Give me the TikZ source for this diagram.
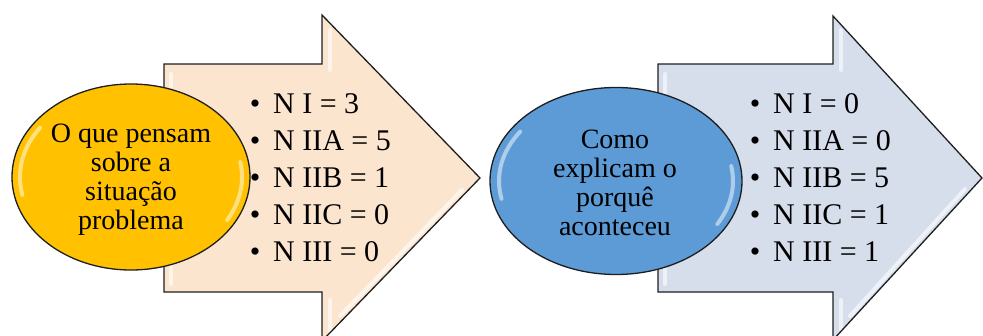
\documentclass[tikz,border=0pt]{standalone}
\usepackage{fontspec}
\setmainfont{Liberation Serif}
\usetikzlibrary{shapes.geometric}
\definecolor{peach}{RGB}{252,229,206}
\definecolor{steel}{RGB}{214,222,235}
\definecolor{gold}{RGB}{255,193,0}
\definecolor{golddark}{RGB}{236,163,0}
\definecolor{sky}{RGB}{92,155,213}
\definecolor{skydark}{RGB}{62,120,180}
\definecolor{edge}{RGB}{30,30,30}
\pgfdeclareradialshading{goldglow}{\pgfpoint{0bp}{0bp}}{color(0bp)=(gold); color(40bp)=(gold); color(50bp)=(golddark)}
\pgfdeclareradialshading{skyglow}{\pgfpoint{0bp}{0bp}}{color(0bp)=(sky); color(40bp)=(sky); color(50bp)=(skydark)}
\tikzset{
  border/.style={draw=edge, line width=1.3pt, line join=miter},
  bevel/.style={white, opacity=.6, line width=4pt, line cap=round},
  glint/.style={white, opacity=.5, line width=4pt, line cap=round},
  ellbox/.style={ellipse, border, inner sep=0pt},
  etext/.style={align=center, inner sep=0pt, font=\fontsize{28}{29}\selectfont},
  item/.style={anchor=base west, inner sep=0pt, font=\fontsize{30}{37}\selectfont},
}
\newcommand{\bul}{\makebox[23.25pt][l]{•}}
\begin{document}
\begin{tikzpicture}[x=1pt,y=-1pt]
\useasboundingbox (0,0) rectangle (983,335);
\clip (0,0) rectangle (983,335);
% ---------- left arrow ----------
\begin{scope}
  \clip (164,64) -- (322,64) -- (322,15) -- (480,178) -- (322,341) -- (322,292) -- (164,292) -- cycle;
  \fill[peach] (150,0) rectangle (500,345);
  \draw[bevel] (171,74) -- (171,98);
  \draw[bevel] (171,262) -- (171,284);
  \draw[bevel] (330,30) -- (330,70);
  \draw[bevel] (330,300) -- (330,330);
  \draw[bevel] (462,190) -- (340,316);
\end{scope}
\draw[border] (164,64) -- (322,64) -- (322,15) -- (480,178) -- (322,341) -- (322,292) -- (164,292) -- cycle;
% ---------- right arrow ----------
\begin{scope}
  \clip (658,64) -- (833,64) -- (833,16) -- (982,178) -- (833,340) -- (833,292) -- (658,292) -- cycle;
  \fill[steel] (640,0) rectangle (990,345);
  \draw[bevel] (665,74) -- (665,98);
  \draw[bevel] (665,262) -- (665,284);
  \draw[bevel] (841,30) -- (841,70);
  \draw[bevel] (841,300) -- (841,330);
  \draw[bevel] (965,189) -- (850,316);
\end{scope}
\draw[border] (658,64) -- (833,64) -- (833,16) -- (982,178) -- (833,340) -- (833,292) -- (658,292) -- cycle;
% ---------- ellipses ----------
\node[ellbox, shading=goldglow, minimum width=238pt, minimum height=186pt] (e1) at (131,177) {};
\draw[glint] ([shift={(131,177)}]168:111 and 86) arc[start angle=168, end angle=215, x radius=111, y radius=86];
\draw[glint] ([shift={(131,177)}]-10:111 and 86) arc[start angle=-10, end angle=30, x radius=111, y radius=86];
\node[etext] (t1) at (131,180) {O que pensam\\sobre a\\situação\\problema};

\node[ellbox, shading=skyglow, minimum width=252pt, minimum height=187pt] (e2) at (616,181) {};
\draw[glint] ([shift={(616,181)}]168:117 and 86) arc[start angle=168, end angle=215, x radius=117, y radius=86];
\draw[glint] ([shift={(616,181)}]-10:117 and 86) arc[start angle=-10, end angle=30, x radius=117, y radius=86];
\node[etext] (t2) at (615,183) {Como\\explicam o\\porquê\\aconteceu};
% ---------- lists ----------
\node[item] (a1) at (249.75,113) {\bul N I = 3};
\node[item] (a2) at (249.75,150) {\bul N IIA = 5};
\node[item] (a3) at (249.75,187) {\bul N IIB = 1};
\node[item] (a4) at (249.75,224) {\bul N IIC = 0};
\node[item] (a5) at (249.75,261) {\bul N III = 0};
\node[item] (b1) at (749.75,113) {\bul N I = 0};
\node[item] (b2) at (749.75,150) {\bul N IIA = 0};
\node[item] (b3) at (749.75,187) {\bul N IIB = 5};
\node[item] (b4) at (749.75,224) {\bul N IIC = 1};
\node[item] (b5) at (749.75,261) {\bul N III = 1};
\end{tikzpicture}
\end{document}
